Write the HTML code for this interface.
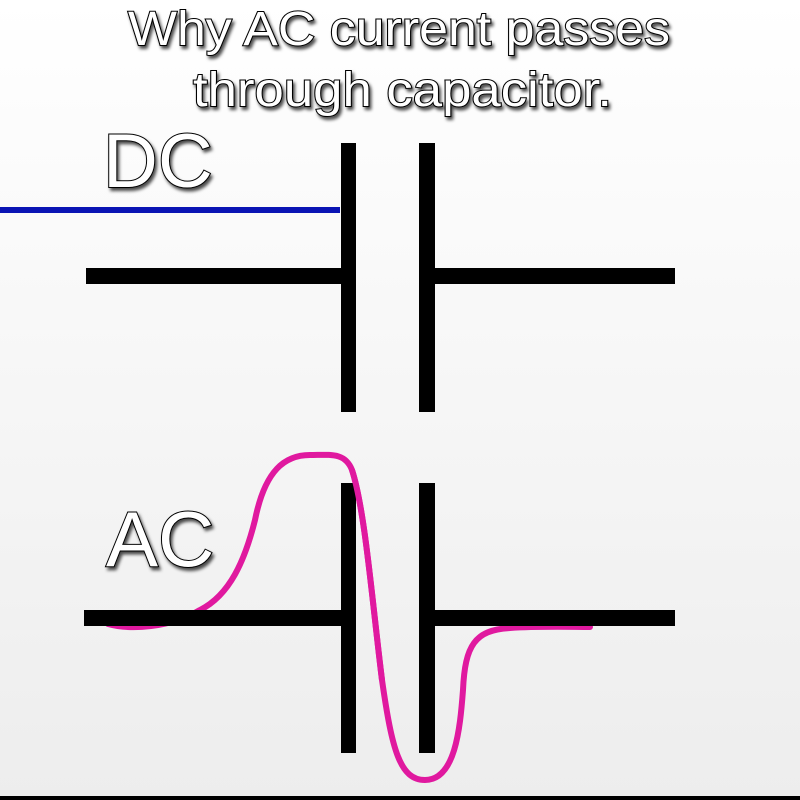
<!DOCTYPE html>
<html><head><style>
body{margin:0}
svg{display:block}
.t{font-family:"Liberation Sans",sans-serif;fill:#fff;stroke:#000;stroke-width:2;paint-order:stroke;filter:url(#sh)}
</style></head><body>
<svg width="800" height="800" viewBox="0 0 800 800">
<defs>
<linearGradient id="bg" x1="0" y1="0" x2="0" y2="1"><stop offset="0" stop-color="#ffffff"/><stop offset="1" stop-color="#ededed"/></linearGradient>
<filter id="sh" x="-10%" y="-10%" width="130%" height="140%"><feDropShadow dx="2" dy="3" stdDeviation="1.5" flood-color="#000" flood-opacity="0.7"/></filter>
</defs>
<rect width="800" height="800" fill="url(#bg)"/>
<text class="t" x="128" y="45" font-size="48" textLength="542" lengthAdjust="spacingAndGlyphs">Why AC current passes</text>
<text class="t" x="193" y="106" font-size="48" textLength="419" lengthAdjust="spacingAndGlyphs">through capacitor.</text>
<text class="t" x="103" y="187" font-size="76">DC</text>
<text class="t" x="106" y="566" font-size="78">AC</text>
<path d="M108 624 C130 630 170 628 200 610 C230 595 245 560 255 520 C265 470 285 455 310 455 C330 455 345 452 352 470 C365 510 372 600 382 680 C392 750 400 780 425 780 C455 780 460 730 463 690 C465 645 475 630 510 628 C540 626 570 627 590 627" fill="none" stroke="#e0199f" stroke-width="6" stroke-linecap="round"/>
<g fill="#000">
<rect x="341" y="143" width="15" height="269"/>
<rect x="419" y="143" width="16" height="269"/>
<rect x="86" y="268" width="256" height="16"/>
<rect x="435" y="268" width="240" height="16"/>
<rect x="341" y="483" width="15" height="270"/>
<rect x="419" y="483" width="16" height="270"/>
<rect x="84" y="610" width="258" height="16"/>
<rect x="435" y="610" width="240" height="16"/>
<rect x="0" y="796" width="800" height="4"/>
</g>
<rect x="0" y="207" width="340" height="6" fill="#0a14b4"/>
<path d="M352 470 C365 510 372 600 382 680" fill="none" stroke="#e0199f" stroke-width="6"/>
</svg>
</body></html>
